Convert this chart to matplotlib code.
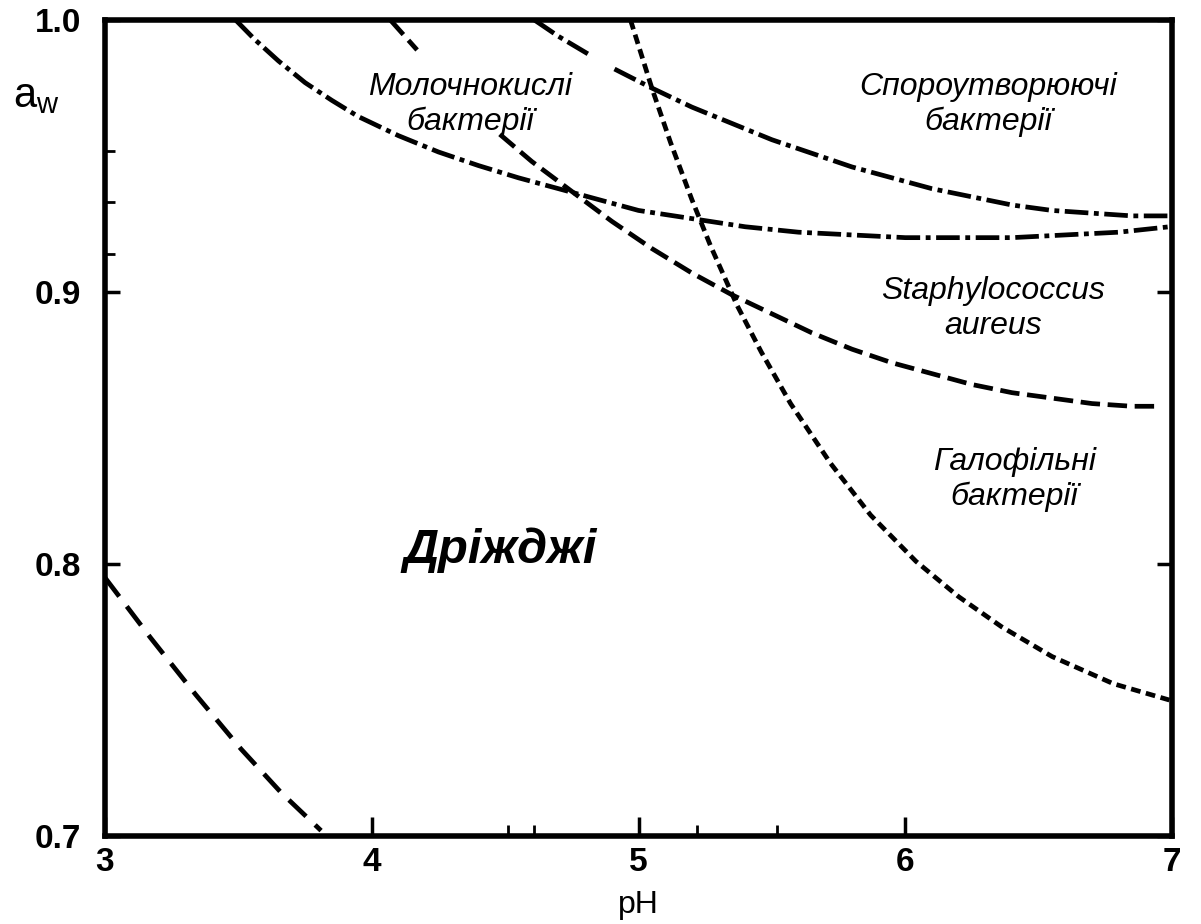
import numpy as np
import matplotlib.pyplot as plt
from matplotlib.ticker import FixedLocator

plt.rcParams['font.family'] = ['Liberation Sans', 'DejaVu Sans']
plt.rcParams['lines.scale_dashes'] = False

# boundary curves (pH, a_w); nan = gap behind a label
ph_lacto = [3.49, 3.56, 3.65, 3.75, 3.85, 3.95, 4.10, 4.25, 4.40, 4.55, 4.70, 4.85,
            5.00, 5.20, 5.40, 5.60, 5.80, 6.00, 6.20, 6.40, 6.60, 6.80, 6.99]
aw_lacto = [1.000, 0.993, 0.985, 0.977, 0.9705, 0.9645, 0.9575, 0.9515, 0.9465, 0.942,
            0.938, 0.934, 0.930, 0.927, 0.924, 0.922, 0.921, 0.920, 0.920, 0.920,
            0.921, 0.922, 0.924]

ph_spore = [4.61, 4.70, 4.82, 4.86, 4.91, 5.05, 5.20, 5.35, 5.50, 5.65, 5.80, 5.95,
            6.10, 6.25, 6.40, 6.55, 6.70, 6.85, 6.99]
aw_spore = [1.000, 0.994, 0.987, np.nan, 0.982, 0.975, 0.968, 0.962, 0.956, 0.951,
            0.946, 0.942, 0.938, 0.935, 0.932, 0.930, 0.929, 0.928, 0.928]

ph_staph = [4.07, 4.17, 4.30, 4.48, 4.60, 4.75, 4.90, 5.05, 5.20, 5.35, 5.50, 5.65,
            5.80, 5.95, 6.10, 6.25, 6.40, 6.55, 6.70, 6.85, 6.96]
aw_staph = [1.000, 0.989, np.nan, 0.958, 0.948, 0.937, 0.926, 0.916, 0.907, 0.899,
            0.892, 0.885, 0.879, 0.874, 0.870, 0.866, 0.863, 0.861, 0.859, 0.858, 0.858]

ph_halo = [4.97, 5.05, 5.12, 5.20, 5.27, 5.37, 5.46, 5.57, 5.72, 5.87, 6.04, 6.20,
           6.36, 6.55, 6.78, 6.99]
aw_halo = [1.000, 0.975, 0.955, 0.934, 0.917, 0.895, 0.878, 0.859, 0.837, 0.818,
           0.801, 0.788, 0.777, 0.766, 0.756, 0.750]

ph_yeast = [3.00, 3.17, 3.34, 3.51, 3.66, 3.81]
aw_yeast = [0.795, 0.773, 0.752, 0.732, 0.716, 0.702]

x_ticks = [3, 4, 5, 6, 7]
y_ticks = [0.7, 0.8, 0.9, 1.0]
x_minor = [4.51, 4.61, 5.22, 5.52]
y_minor = [0.914, 0.933, 0.952]

fig = plt.figure(figsize=(12.01, 9.24), dpi=100)
ax = fig.add_axes([0.0874, 0.0952, 0.8885, 0.8831])

lw = 3.4
dashdot = (0, (17, 4, 3.5, 4))
ax.plot(ph_lacto, aw_lacto, color='black', lw=lw, linestyle=dashdot)
ax.plot(ph_spore, aw_spore, color='black', lw=lw, linestyle=dashdot)
ax.plot(ph_staph, aw_staph, color='black', lw=lw, linestyle=(0, (14, 5.5)))
ax.plot(ph_halo, aw_halo, color='black', lw=lw, linestyle=(0, (7, 4)))
ax.plot(ph_yeast, aw_yeast, color='black', lw=lw, linestyle=(0, (17, 9)))

ax.set_xlim(3, 7)
ax.set_ylim(0.7, 1.0)
ax.set_xticks(x_ticks)
ax.set_yticks(y_ticks)
ax.set_yticklabels(['0.7', '0.8', '0.9', '1.0'])
ax.xaxis.set_minor_locator(FixedLocator(x_minor))
ax.yaxis.set_minor_locator(FixedLocator(y_minor))
ax.yaxis.set_ticks_position('both')

for s in ax.spines.values():
    s.set_linewidth(4)

ax.tick_params(axis='x', which='major', direction='in', length=14, width=2.5,
               pad=8, labelsize=24)
ax.tick_params(axis='y', which='major', direction='in', length=11, width=2.5,
               pad=17, labelsize=24)
ax.tick_params(axis='x', which='minor', direction='in', length=8, width=2)
ax.tick_params(axis='y', which='minor', direction='in', length=7, width=2, right=False)
for lab in ax.get_xticklabels() + ax.get_yticklabels():
    lab.set_fontweight('bold')
    lab.set_family(['Liberation Sans Narrow', 'Liberation Sans'])

ax.set_xlabel('pH', fontsize=23, va='center')
ax.xaxis.set_label_coords(0.5, -0.085)
fig.text(0.011, 0.884, r'$\mathregular{a_w}$', fontsize=30, va='baseline', ha='left')

lab_kw = dict(fontsize=23, style='italic', ha='center', va='center', linespacing=1.2)
ax.text(4.37, 0.969, 'Молочнокислі\nбактерії', **lab_kw)
ax.text(6.31, 0.969, 'Спороутворюючі\nбактерії', **lab_kw)
ax.text(6.33, 0.894, 'Staphylococcus\naureus', **lab_kw)
ax.text(6.41, 0.831, 'Галофільні\nбактерії', **lab_kw)
ax.text(4.48, 0.805, 'Дріжджі', fontsize=35, style='italic', fontweight='bold',
        ha='center', va='center')

plt.savefig('out.png', dpi=100)
plt.close()
